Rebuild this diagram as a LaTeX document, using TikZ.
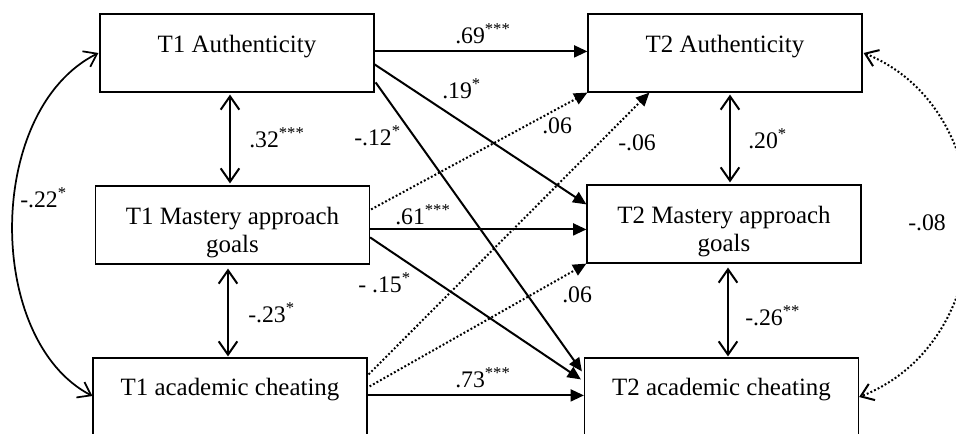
\documentclass[tikz,border=0pt]{standalone}
\usepackage{fontspec}
\setmainfont{Liberation Serif}
\usetikzlibrary{arrows.meta,calc}
\tikzset{
  box/.style={draw, line width=0.9pt, minimum width=205.5pt, minimum height=58.5pt, inner sep=0pt},
  boxtext/.style={anchor=base, inner sep=0pt, font=\fontsize{18.7pt}{21pt}\selectfont},
  lbl/.style={anchor=base west, inner sep=0pt, font=\fontsize{17.8pt}{20pt}\selectfont},
  path/.style={line width=1.5pt, -{Triangle[length=10pt,width=9pt]}},
  dotpath/.style={line width=1.5pt, dash pattern=on 1.4pt off 1.6pt, -{Triangle[length=10pt,width=9pt]}},
  cov/.style={line width=1.5pt, {Straight Barb[length=10pt,width=14pt]}-{Straight Barb[length=10pt,width=14pt]}},
  covcurve/.style={line width=1.3pt, {Straight Barb[length=9pt,width=13pt]}-{Straight Barb[length=9pt,width=13pt]}},
  covdot/.style={line width=1.5pt, dash pattern=on 1.4pt off 1.6pt, {Straight Barb[length=9pt,width=13pt]}-{Straight Barb[length=9pt,width=13pt]}}
}
\newcommand{\stars}[1]{\textsuperscript{#1}}
\begin{document}
\begin{tikzpicture}[x=0.75pt,y=-0.75pt]
\useasboundingbox (0,0) rectangle (956,433);
\clip (0,0) rectangle (956,433);
\fill[white] (0,0) rectangle (956,433);
% boxes
\node[box] (a1) at (237,53) {};
\node[box] (m1) at (232.5,225) {};
\node[box] (c1) at (230,397) {};
\node[box] (a2) at (725,53) {};
\node[box] (m2) at (724,224) {};
\node[box] (c2) at (721.5,397) {};
\node[boxtext] (ta1) at ($(a1.north)+(0,39)$) {T1 Authenticity};
\node[boxtext] (tm1) at ($(m1.north)+(0,39)$) {\begin{tabular}[t]{@{}c@{}}T1 Mastery approach\\goals\end{tabular}};
\node[boxtext] (tc1) at ($(c1.north)+(0,38)$) {T1 academic cheating};
\node[boxtext] (ta2) at ($(a2.north)+(0,39)$) {T2 Authenticity};
\node[boxtext] (tm2) at ($(m2.north)+(0,39)$) {\begin{tabular}[t]{@{}c@{}}T2 Mastery approach\\goals\end{tabular}};
\node[boxtext] (tc2) at ($(c2.north)+(0,38)$) {T2 academic cheating};
% solid paths
\draw[path] ($(a1.north east)+(0,38)$) -- ($(a2.north west)+(0,38)$);
\draw[path] ($(a1.north east)+(0,51)$) -- ($(m2.north west)+(0,20)$);
\draw[path] ($(a1.north east)+(1,69)$) -- ($(c2.north west)+(-2,14)$);
\draw[path] ($(m1.north east)+(0,44)$) -- ($(m2.north west)+(0,45)$);
\draw[path] ($(m1.north east)+(0,52)$) -- ($(c2.north west)+(-3,22)$);
\draw[path] ($(c1.north east)+(0,38)$) -- ($(c2.north west)+(0,38)$);
% dotted paths
\draw[dotpath] ($(m1.north east)+(1,24)$) -- (a2.south west);
\draw[dotpath] ($(c1.north east)+(1,17)$) -- ($(a2.south west)+(62,0)$);
\draw[dotpath] ($(c1.north east)+(2,29)$) -- (m2.south west);
% covariances
\draw[cov] ($(a1.south)+(-7,2)$) -- ($(m1.north)+(-2.5,-2)$);
\draw[cov] ($(m1.south)+(-4.5,4)$) -- ($(c1.north)+(-2,-1)$);
\draw[cov] ($(a2.south)+(5,2)$) -- ($(m2.north)+(6,-2)$);
\draw[cov] ($(m2.south)+(4,4)$) -- ($(c2.north)+(6.5,-1)$);
\draw[covcurve] ($(a1.west)+(-1,0)$) .. controls (-15,110) and (-15,340) .. ($(c1.west)+(0,-1)$);
\draw[covdot] ($(a2.east)+(1,0)$) .. controls (1005,110) and (1005,340) .. (c2.east);
% labels
\node[lbl] (l1) at (455,43) {.69\stars{***}};
\node[lbl] (l2) at (442,98) {.19\stars{*}};
\node[lbl] (l3) at (354,145) {-.12\stars{*}};
\node[lbl] (l4) at (542,133) {.06};
\node[lbl] (l5) at (618,150) {-.06};
\node[lbl] (l6) at (748,148) {.20\stars{*}};
\node[lbl] (l7) at (249,147) {.32\stars{***}};
\node[lbl] (l8) at (20,207) {-.22\stars{*}};
\node[lbl] (l9) at (395,224) {.61\stars{***}};
\node[lbl] (l10) at (358,292) {- .15\stars{*}};
\node[lbl] (l11) at (562,302) {.06};
\node[lbl] (l12) at (745,325) {-.26\stars{**}};
\node[lbl] (l13) at (248,322) {-.23\stars{*}};
\node[lbl] (l14) at (455,387) {.73\stars{***}};
\node[lbl] (l15) at (908,230) {-.08};
\end{tikzpicture}
\end{document}
